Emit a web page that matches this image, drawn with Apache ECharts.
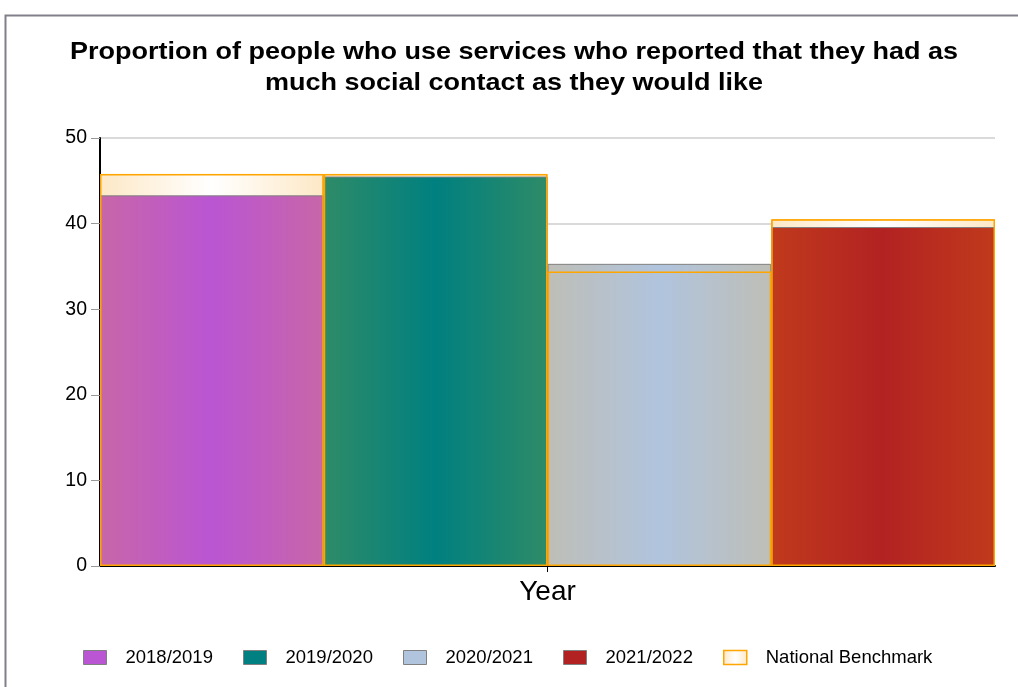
<!DOCTYPE html>
<html>
<head>
<meta charset="utf-8">
<script src="https://cdn.jsdelivr.net/npm/echarts@6/dist/echarts.min.js"></script>
<style>
  html, body { margin: 0; padding: 0; background: #fff; }
  #chart { width: 1018px; height: 687px; }
</style>
</head>
<body>
<div id="chart"></div>
<script>
// Survey years shown as adjacent bars
const years = ['2018/2019', '2019/2020', '2020/2021', '2021/2022'];
// Percentage of service users reporting enough social contact
const values = [43.3, 45.5, 35.3, 39.6];
// National benchmark for each year
const benchmark = [45.8, 45.8, 34.4, 40.5];
// Y axis ticks
const yTicks = [0, 10, 20, 30, 40, 50];

const titleLines = [
  'Proportion of people who use services who reported that they had as',
  'much social contact as they would like'
];

// Fill colours: [edge, centre] for a horizontal gradient
const yearColors = [
  ['#c866a8', '#ba55d3'],
  ['#2e8b67', '#008080'],
  ['#bebeb6', '#b0c4de'],
  ['#c03a1c', '#b22222']
];

const FONT = 'Liberation Sans, Arial, sans-serif';

function hGrad(edge, centre) {
  return new echarts.graphic.LinearGradient(0, 0, 1, 0, [
    { offset: 0, color: edge },
    { offset: 0.5, color: centre },
    { offset: 1, color: edge }
  ]);
}

const chart = echarts.init(document.getElementById('chart'));

const valueSeries = years.map((y, i) => ({
  name: y,
  type: 'bar',
  xAxisIndex: 0,
  barGap: '-100%',
  barCategoryGap: 0,
  z: 3,
  data: years.map((_, j) => (j === i ? values[i] : '-')),
  itemStyle: {
    color: hGrad(yearColors[i][0], yearColors[i][1]),
    borderColor: '#808080',
    borderWidth: 1
  },
  emphasis: { disabled: true }
}));

// One legend block per entry so the items sit on an even pitch
const legendNames = years.concat(['National Benchmark']);
const legends = legendNames.map((name, i) => ({
  left: 83 + i * 160,
  top: 648,
  padding: 0,
  itemWidth: 23,
  itemHeight: 14,
  selectedMode: false,
  textStyle: { fontFamily: FONT, fontSize: 18.5, color: '#000', padding: [0, 0, 0, 14] },
  data: [i < years.length
    ? { name: name, icon: 'rect',
        itemStyle: { color: yearColors[i][1], borderColor: '#808080', borderWidth: 1 } }
    : { name: name, icon: 'rect',
        itemStyle: { color: hGrad('#fde8c6', '#ffffff'), borderColor: '#ffa500', borderWidth: 1.5 } }]
}));

const option = {
  animation: false,
  backgroundColor: '#fff',
  graphic: [{
    type: 'polyline',
    silent: true,
    shape: { points: [[5.5, 690], [5.5, 15.5], [1020, 15.5]] },
    style: { stroke: '#80808a', lineWidth: 2, fill: null }
  }].concat(titleLines.map((t, i) => ({
    type: 'text',
    silent: true,
    x: 514,
    y: 52 + i * 31,
    scaleX: 1.125,
    style: {
      text: t,
      fill: '#000',
      font: 'bold 24px ' + FONT,
      textAlign: 'center',
      textVerticalAlign: 'middle'
    }
  }))),
  legend: legends,
  grid: { left: 100, right: 23, top: 138, bottom: 121, containLabel: false },
  xAxis: [{
    type: 'category',
    data: years,
    axisLine: { show: true, lineStyle: { color: '#000', width: 2 } },
    axisTick: { show: false },
    axisLabel: { show: false },
    splitLine: { show: false }
  }, {
    type: 'category',
    data: ['Year'],
    position: 'bottom',
    axisLine: { show: false },
    axisTick: { show: true, alignWithLabel: true, length: 6, lineStyle: { color: '#000' } },
    axisLabel: {
      margin: 12,
      fontFamily: FONT,
      fontSize: 28,
      color: '#000'
    }
  }],
  yAxis: {
    type: 'value',
    min: yTicks[0],
    max: yTicks[yTicks.length - 1],
    interval: 10,
    axisLine: { show: true, lineStyle: { color: '#000', width: 2 } },
    axisTick: { show: true, length: 9, lineStyle: { color: '#999' } },
    axisLabel: {
      margin: 13,
      fontFamily: FONT,
      fontSize: 19.5,
      color: '#000'
    },
    splitLine: { show: true, lineStyle: { color: '#dadada', width: 2 } }
  },
  series: [{
    name: 'National Benchmark',
    type: 'bar',
    xAxisIndex: 0,
    barGap: '-100%',
    barCategoryGap: 0,
    z: 2,
    data: benchmark,
    itemStyle: {
      color: hGrad('#fde8c6', '#ffffff'),
      borderColor: '#ffa500',
      borderWidth: 1
    },
    emphasis: { disabled: true }
  }].concat(valueSeries).concat([{
    name: 'National Benchmark',
    type: 'bar',
    xAxisIndex: 0,
    barGap: '-100%',
    barCategoryGap: 0,
    z: 4,
    data: benchmark,
    itemStyle: {
      color: 'rgba(0,0,0,0)',
      borderColor: '#ffa500',
      borderWidth: 1.5
    },
    emphasis: { disabled: true }
  }])
};

chart.setOption(option);
</script>
</body>
</html>
